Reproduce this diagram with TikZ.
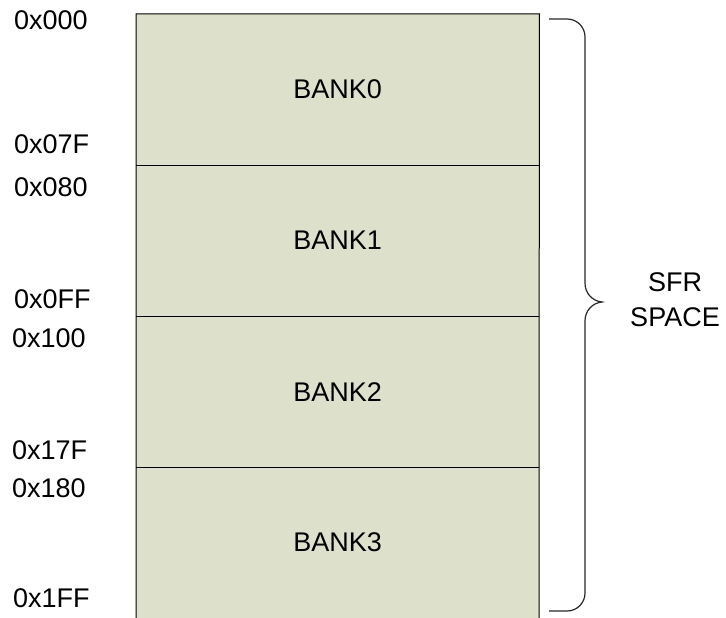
\documentclass[tikz,border=0pt]{standalone}
\usepackage{fontspec}
\setmainfont{Liberation Sans}
\begin{document}
\begin{tikzpicture}[x=1pt,y=-1pt]
\definecolor{bankfill}{RGB}{221,224,203}
\tikzset{
  txt/.style={font=\fontsize{27}{35}\selectfont, text=black},
  bank/.style={txt, fill=bankfill, draw=none, minimum width=403pt, minimum height=151pt, inner sep=0pt, anchor=north west},
  addr/.style={txt, anchor=west, inner sep=0pt},
  edge/.style={draw=black, line width=1pt},
  bracestyle/.style={draw=black!85, line width=1.2pt}
}
\useasboundingbox (0,0) rectangle (726,618);
\node[bank] (b0) at (136,14) {BANK0};
\node[bank] (b1) at (136,165) {BANK1};
\node[bank] (b2) at (136,316) {BANK2};
\node[bank] (b3) at (136,467) {BANK3};
\coordinate (bl) at (136,618);
\coordinate (br) at (539,618);
\draw[edge] (bl) -- (b0.north west) -- (b0.north east) -- (br);
\draw[edge] (b1.north west) -- (b1.north east);
\draw[edge] (b2.north west) -- (b2.north east);
\draw[edge] (b3.north west) -- (b3.north east);
\node[addr] (a0) at (14,20) {0x000};
\node[addr] (a1) at (14,144) {0x07F};
\node[addr] (a2) at (14,187) {0x080};
\node[addr] (a3) at (14,299) {0x0FF};
\node[addr] (a4) at (12,338) {0x100};
\node[addr] (a5) at (12,450) {0x17F};
\node[addr] (a6) at (12,488) {0x180};
\node[addr] (a7) at (13,598) {0x1FF};
\coordinate (t0) at (549,19);
\coordinate (tip) at (602,302);
\coordinate (t1) at (549,611);
\draw[bracestyle] (t0) -- (567,19) .. controls (577,19) and (585,27) .. (585,37) -- (585,283) .. controls (585,293) and (592,301) .. (tip) .. controls (592,303) and (585,311) .. (585,321) -- (585,593) .. controls (585,603) and (577,611) .. (567,611) -- (t1);
\node[txt, align=center, inner sep=0pt] (sfr) at (675,300) {SFR\\SPACE};
\end{tikzpicture}
\end{document}
